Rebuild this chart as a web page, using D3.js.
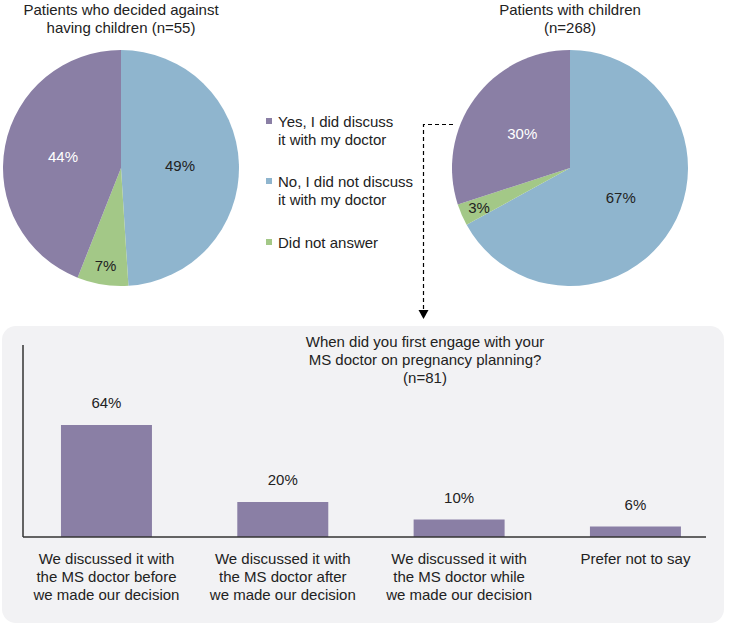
<!DOCTYPE html>
<html><head><meta charset="utf-8">
<script src="https://cdn.jsdelivr.net/npm/d3@7"></script>
<style>body{margin:0;background:#fff;} text{font-family:"Liberation Sans",Arial,sans-serif;}</style>
</head><body>
<svg id="c" width="729" height="628"></svg>
<script>
// ---- data ----
const pieCategories = ["No, I did not discuss it with my doctor", "Did not answer", "Yes, I did discuss it with my doctor"];
const pieDecidedAgainst = [49, 7, 44];
const pieWithChildren = [67, 3, 30];
const legendItems = [
  {lines:["Yes, I did discuss","it with my doctor"], key:"Yes, I did discuss it with my doctor"},
  {lines:["No, I did not discuss","it with my doctor"], key:"No, I did not discuss it with my doctor"},
  {lines:["Did not answer"], key:"Did not answer"}
];
const barCategories = [
  ["We discussed it with","the MS doctor before","we made our decision"],
  ["We discussed it with","the MS doctor after","we made our decision"],
  ["We discussed it with","the MS doctor while","we made our decision"],
  ["Prefer not to say"]
];
const barValues = [64, 20, 10, 6];

const colors = d3.scaleOrdinal()
  .domain(pieCategories)
  .range(["#8fb5ce", "#a3c887", "#8a7fa5"]);
const labelColor = d3.scaleOrdinal().domain(pieCategories).range(["#222", "#222", "#fff"]);

const svg = d3.select("#c");
const FS = 15;

// ---- pies ----
function drawPie(cx, cy, r, values, titleLines) {
  const g = svg.append("g").attr("transform", `translate(${cx},${cy})`);
  const data = values.map((v,i)=>({cat:pieCategories[i], v}));
  const pie = d3.pie().sort(null).value(d=>d.v);
  const arc = d3.arc().innerRadius(0).outerRadius(r);
  const arcs = pie(data);
  g.selectAll("path").data(arcs).join("path")
    .attr("d", arc).attr("fill", d=>colors(d.data.cat));
  g.selectAll("text.lab").data(arcs).join("text")
    .attr("class","lab")
    .attr("transform", d=>{
      const lr = d.data.v < 10 ? r*0.84 : r*0.5;
      const c = d3.arc().innerRadius(lr).outerRadius(lr).centroid(d);
      return `translate(${c[0]},${c[1]})`;
    })
    .attr("text-anchor","middle").attr("dy","0.35em")
    .attr("font-size",FS).attr("fill", d=>labelColor(d.data.cat))
    .text(d=>d.data.v + "%");
  const t = svg.append("text").attr("x", cx).attr("y", 15).attr("text-anchor","middle")
    .attr("font-size",FS).attr("fill","#222");
  titleLines.forEach((l,i)=>t.append("tspan").attr("x",cx).attr("dy", i?18:0).text(l));
}
drawPie(121, 168, 118, pieDecidedAgainst, ["Patients who decided against","having children (n=55)"]);
drawPie(570, 168, 118, pieWithChildren, ["Patients with children","(n=268)"]);

// ---- legend ----
const legY = [127, 187, 248];
legendItems.forEach((it,i)=>{
  svg.append("rect").attr("x",266).attr("y",legY[i]-9).attr("width",6).attr("height",6)
    .attr("fill", colors(it.key));
  const t = svg.append("text").attr("x",278).attr("y",legY[i]).attr("font-size",FS).attr("fill","#222");
  it.lines.forEach((l,j)=>t.append("tspan").attr("x",278).attr("dy", j?18:0).text(l));
});

// ---- dashed connector ----
svg.append("path").attr("d","M453,124.5H423.5V318")
  .attr("fill","none").attr("stroke","#000").attr("stroke-width",1.2)
  .attr("stroke-dasharray","4,3");
svg.append("path").attr("d","M418.5,310L428.5,310L423.5,319Z").attr("fill","#000");

// ---- bottom panel ----
svg.append("rect").attr("x",2).attr("y",326).attr("width",722).attr("height",297)
  .attr("rx",14).attr("fill","#f2f2f4");

const bx0 = 23, bx1 = 706, baseY = 537;
const x = d3.scaleBand().domain(d3.range(barValues.length)).range([18.3, 723.6])
  .paddingInner(0.484).paddingOuter(0.242);
const y = d3.scaleLinear().domain([0, 64]).range([baseY, 425]);

svg.append("g").selectAll("rect").data(barValues).join("rect")
  .attr("x",(d,i)=>x(i)).attr("width",x.bandwidth())
  .attr("y",d=>y(d)).attr("height",d=>baseY-y(d)).attr("fill","#8a7fa5");

svg.append("g").selectAll("text").data(barValues).join("text")
  .attr("x",(d,i)=>x(i)+x.bandwidth()/2).attr("y",d=>y(d)-17)
  .attr("text-anchor","middle").attr("font-size",FS).attr("fill","#222")
  .text(d=>d+"%");

// axes lines
svg.append("line").attr("x1",bx0).attr("x2",bx0).attr("y1",345).attr("y2",baseY)
  .attr("stroke","#333").attr("stroke-width",1.5);
svg.append("line").attr("x1",bx0).attr("x2",bx1).attr("y1",baseY).attr("y2",baseY)
  .attr("stroke","#333").attr("stroke-width",1.5);

barCategories.forEach((lines,i)=>{
  const cx = x(i)+x.bandwidth()/2;
  const t = svg.append("text").attr("x",cx).attr("y",564).attr("text-anchor","middle")
    .attr("font-size",FS).attr("fill","#222");
  lines.forEach((l,j)=>t.append("tspan").attr("x",cx).attr("dy", j?18:0).text(l));
});

const pt = svg.append("text").attr("x",425).attr("y",347).attr("text-anchor","middle")
  .attr("font-size",FS).attr("fill","#222");
["When did you first engage with your","MS doctor on pregnancy planning?","(n=81)"]
  .forEach((l,j)=>pt.append("tspan").attr("x",425).attr("dy", j?18:0).text(l));
</script>
</body></html>
